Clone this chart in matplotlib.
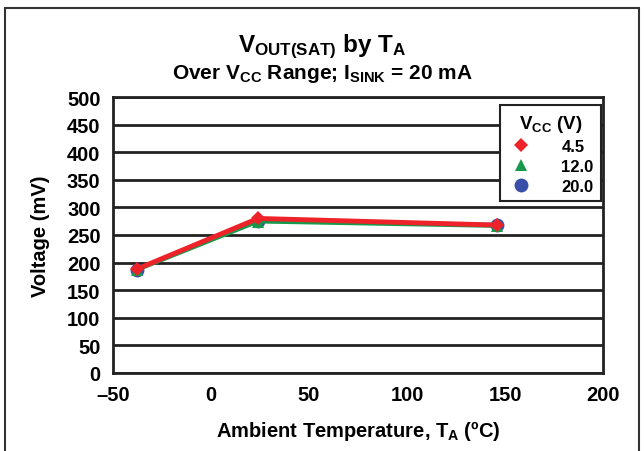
import matplotlib.pyplot as plt
import matplotlib.patches as patches

plt.rcParams.update({
    "font.family": "Liberation Sans",
    "font.weight": "bold",
    "mathtext.fontset": "custom",
    "mathtext.rm": "Liberation Sans:bold",
    "mathtext.bf": "Liberation Sans:bold",
    "mathtext.it": "Liberation Sans:bold",
    "mathtext.sf": "Liberation Sans:bold",
})

temp = [-38, 24, 146]
v_45 = [188, 280, 268]
v_12 = [186, 274, 266]
v_20 = [187, 276, 269]

# name, values, colour, marker, marker size, line width
series = [
    ("20.0", v_20, "#3a4fa8", "o", 10, 2.5),
    ("12.0", v_12, "#16994a", "^", 9, 2.5),
    ("4.5", v_45, "#ee2229", "D", 7, 3.5),
]

fig = plt.figure(figsize=(6.44, 4.52), dpi=100)
ax = fig.add_axes([113 / 644, 1 - 374 / 452, 490 / 644, 276 / 452])

# outer frame of the figure
fig.patches.append(patches.Rectangle((5 / 644, -0.1), 634 / 644, 1.1 - 9 / 452,
                                     transform=fig.transFigure, fill=False,
                                     edgecolor="#333333", linewidth=1.5))

for name, vals, col, mk, ms, lw in series:
    ax.plot(temp, vals, color=col, linewidth=lw, marker=mk, markersize=ms,
            markeredgewidth=0, zorder=3)

ax.set_xlim(-50, 200)
ax.set_ylim(0, 500)
ax.set_xticks(range(-50, 201, 50))
ax.set_xticklabels(["\u201350", "0", "50", "100", "150", "200"])
ax.set_yticks(range(0, 501, 50))
ax.tick_params(length=0, labelsize=14.5)
ax.tick_params(axis="x", pad=9)
ax.tick_params(axis="y", pad=9)
for lab in ax.get_xticklabels() + ax.get_yticklabels():
    lab.set_fontweight("bold")
ax.grid(axis="y", color="#222222", linewidth=2)
ax.set_axisbelow(True)
for sp in ax.spines.values():
    sp.set_linewidth(2)
    sp.set_color("#222222")

ax.set_xlabel("Ambient Temperature, T$_\\mathrm{A}$ (\u00baC)", fontsize=14.5,
              fontweight="bold", labelpad=10)
ax.set_ylabel("Voltage (mV)", fontsize=14.5, fontweight="bold", labelpad=12)

fig.text(0.5, 1 - 47 / 452, "V$_\\mathrm{OUT(SAT)}$ by T$_\\mathrm{A}$",
         ha="center", va="center", fontsize=17.5, fontweight="bold")
fig.text(0.5, 1 - 74 / 452, "Over V$_\\mathrm{CC}$ Range; I$_\\mathrm{SINK}$ = 20 mA",
         ha="center", va="center", fontsize=15, fontweight="bold")

leg_h = []
for name in ["4.5", "12.0", "20.0"]:
    _, vals, col, mk, ms, lw = [s for s in series if s[0] == name][0]
    leg_h.append(plt.Line2D([], [], linestyle="none", marker=mk, color=col,
                            markersize=ms, markeredgewidth=0))
leg = ax.legend(leg_h, ["4.5", "12.0", "20.0"], title="V$_\\mathrm{CC}$ (V)",
                loc="upper right", bbox_to_anchor=(0.996, 0.971),
                fontsize=12, title_fontsize=13.5, frameon=True, fancybox=False,
                framealpha=1, edgecolor="#222222", handletextpad=1.6,
                labelspacing=0.3, borderpad=0.45, handlelength=1.6,
                borderaxespad=0)
leg.get_frame().set_linewidth(1.5)
for t in leg.get_texts():
    t.set_fontweight("bold")
leg.get_title().set_fontweight("bold")
leg.set_zorder(5)

fig.savefig("out.png", dpi=100)
